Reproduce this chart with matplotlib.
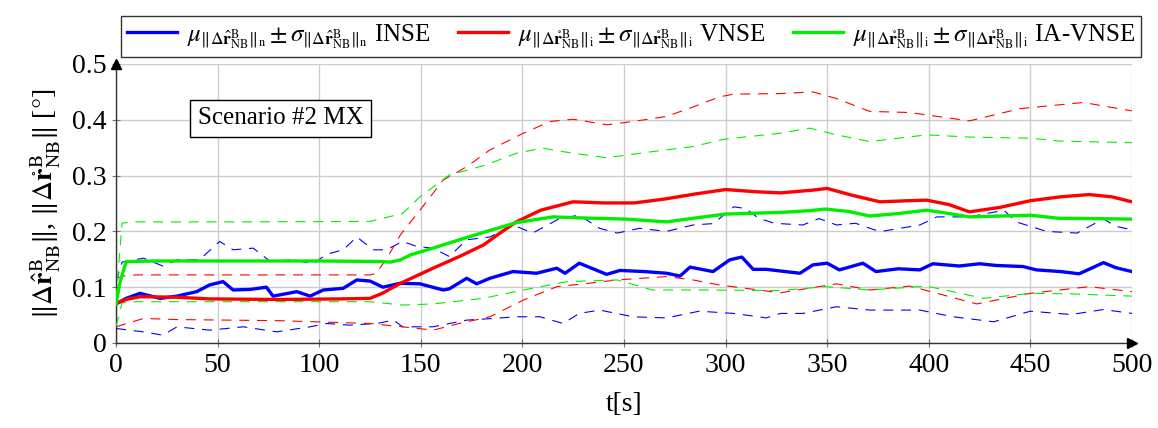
import matplotlib
matplotlib.use("Agg")
import matplotlib.pyplot as plt
import numpy as np

plt.rcParams["font.family"] = ["Liberation Serif", "DejaVu Serif"]
plt.rcParams["mathtext.fontset"] = "stix"

# INSE (blue)
t_blue_mean = [0, 5, 11.8, 21.7, 29.9, 39.7, 46, 52.7, 57.6, 66, 74, 77.3, 89, 95.5, 102, 111.8, 118.5, 125,
               131.4, 139.8, 149.6, 161, 164, 172.6, 177.5, 184, 195.4, 207, 216.9, 221, 228, 241.5, 248, 260,
               271, 277.6, 282.5, 293.8, 302, 308, 313.6, 320, 336.6, 343, 350, 356, 367.6, 374, 385, 395.6,
               402, 415, 425, 433, 446.4, 453, 465, 474, 486, 492, 500]
blue_mean = [0.07, 0.08, 0.089, 0.080, 0.084, 0.092, 0.104, 0.110, 0.095, 0.096, 0.100, 0.084, 0.092, 0.084,
             0.095, 0.098, 0.113, 0.111, 0.100, 0.107, 0.106, 0.095, 0.097, 0.116, 0.106, 0.116, 0.128, 0.125,
             0.134, 0.125, 0.143, 0.123, 0.130, 0.128, 0.125, 0.120, 0.136, 0.128, 0.149, 0.154, 0.132, 0.132,
             0.125, 0.140, 0.143, 0.131, 0.143, 0.128, 0.133, 0.131, 0.142, 0.138, 0.142, 0.139, 0.137, 0.131,
             0.128, 0.124, 0.144, 0.135, 0.128]
t_blue_up = [0, 3, 13.5, 23, 30, 41, 51, 57.6, 67.5, 76, 87, 97, 103.6, 111.8, 118.5, 126.6, 133, 141, 148,
             156, 164, 172.6, 184, 195.4, 205, 218.6, 228, 238, 246.7, 257.6, 271, 284, 294, 304, 310, 316,
             324, 338, 346, 354.6, 364, 376, 395.6, 404, 420, 437, 443, 458, 473, 486, 492, 500]
blue_up = [0.11, 0.145, 0.152, 0.138, 0.149, 0.149, 0.182, 0.167, 0.170, 0.146, 0.149, 0.142, 0.159, 0.167,
           0.190, 0.167, 0.167, 0.182, 0.173, 0.170, 0.155, 0.185, 0.190, 0.2115, 0.197, 0.2235, 0.229, 0.2055,
           0.197, 0.2055, 0.200, 0.2115, 0.214, 0.244, 0.241, 0.224, 0.2145, 0.2115, 0.223, 0.2115, 0.2145,
           0.1995, 0.2115, 0.226, 0.226, 0.238, 0.217, 0.200, 0.197, 0.2225, 0.209, 0.203]
t_blue_lo = [0, 13.5, 23, 30, 46, 62.7, 79, 95.5, 103.6, 115, 128.5, 136.6, 141, 156, 172.6, 185.7, 197,
             208.7, 220, 228, 238, 254.5, 271, 287, 304, 320, 327, 338, 354.6, 371, 395.6, 412, 432, 450,
             470, 486, 500]
blue_lo = [0.026, 0.020, 0.014, 0.029, 0.023, 0.029, 0.020, 0.029, 0.035, 0.032, 0.035, 0.041, 0.029, 0.029,
           0.041, 0.044, 0.047, 0.047, 0.035, 0.053, 0.059, 0.047, 0.045, 0.057, 0.053, 0.045, 0.053, 0.053,
           0.065, 0.059, 0.059, 0.047, 0.038, 0.057, 0.051, 0.060, 0.053]

# VNSE (red)
t_red_mean = [0, 5, 12, 30, 46, 80, 110, 125, 131, 140, 156, 169, 181, 189, 197, 209, 225, 240, 255, 270,
              285, 300, 315, 327, 343, 350, 362, 376, 390, 399, 410, 420, 435, 450, 465, 479, 490, 500]
red_mean = [0.071, 0.078, 0.083, 0.082, 0.079, 0.078, 0.079, 0.080, 0.089, 0.107, 0.134, 0.155, 0.176, 0.197,
            0.217, 0.238, 0.253, 0.251, 0.251, 0.258, 0.267, 0.275, 0.271, 0.269, 0.274, 0.277, 0.265, 0.253,
            0.255, 0.256, 0.248, 0.235, 0.243, 0.255, 0.262, 0.266, 0.262, 0.253]
t_red_up = [0, 3, 10, 60, 125, 128, 133, 140, 149.6, 161, 172.6, 184, 200.5, 213.7, 225, 241.5, 254.5, 271,
            284, 297, 304, 327, 343, 354.6, 371, 390.7, 420, 445, 476, 500]
red_up = [0.115, 0.120, 0.122, 0.122, 0.122, 0.125, 0.150, 0.194, 0.238, 0.292, 0.316, 0.346, 0.376, 0.397,
          0.401, 0.391, 0.397, 0.406, 0.423, 0.441, 0.446, 0.447, 0.450, 0.438, 0.415, 0.413, 0.398, 0.420,
          0.431, 0.416]
t_red_lo = [0, 13.5, 30, 80, 125, 141, 156, 169, 184, 200.5, 217, 230, 246.7, 271, 284, 297, 327, 354.6,
            371, 390.7, 423.6, 450, 479, 500]
red_lo = [0.029, 0.044, 0.042, 0.040, 0.035, 0.029, 0.023, 0.035, 0.047, 0.077, 0.101, 0.106, 0.113, 0.119,
          0.113, 0.104, 0.090, 0.106, 0.095, 0.102, 0.070, 0.089, 0.101, 0.092]

# IA-VNSE (green)
t_green_mean = [0, 2, 5, 20, 60, 100, 130, 135, 140, 145, 156, 169, 182, 197, 215, 230, 251, 271, 285, 300,
                327, 341, 349, 360, 371, 385, 399, 410, 420, 450, 464, 480, 500]
green_mean = [0.07, 0.11, 0.146, 0.147, 0.147, 0.147, 0.146, 0.145, 0.149, 0.158, 0.170, 0.185, 0.1995,
              0.2157, 0.226, 0.224, 0.222, 0.217, 0.224, 0.231, 0.234, 0.237, 0.240, 0.236, 0.2276, 0.232,
              0.238, 0.232, 0.226, 0.229, 0.2235, 0.223, 0.222]
t_green_up = [0, 3, 10, 60, 125, 141, 149.6, 164, 182, 197, 210, 225, 241.5, 264, 284, 299, 327, 341.5,
              354.6, 371, 399, 420, 450, 464, 500]
green_up = [0.08, 0.215, 0.217, 0.217, 0.218, 0.232, 0.262, 0.301, 0.319, 0.340, 0.349, 0.340, 0.332, 0.343,
            0.352, 0.365, 0.376, 0.385, 0.373, 0.361, 0.373, 0.369, 0.367, 0.362, 0.359]
t_green_lo = [0, 3, 10, 60, 125, 141, 156, 180.6, 200.5, 222, 246.7, 264, 287, 327, 349, 371, 399, 427, 450,
              470, 500]
green_lo = [0.03, 0.072, 0.074, 0.074, 0.074, 0.068, 0.070, 0.080, 0.095, 0.110, 0.113, 0.095, 0.095, 0.094,
            0.101, 0.095, 0.102, 0.080, 0.089, 0.088, 0.084]

x_ticks = [0, 50, 100, 150, 200, 250, 300, 350, 400, 450, 500]
y_ticks = [0, 0.1, 0.2, 0.3, 0.4, 0.5]

BLUE = "#0000ff"
RED = "#ff0000"
GREEN = "#00ee00"

fig = plt.figure(figsize=(11.58, 4.28), dpi=100)
ax = fig.add_axes([0.1002, 0.1986, 0.8773, 0.6519])

dash = (0, (9, 7))
for tt, vv, c in [(t_blue_up, blue_up, BLUE), (t_blue_lo, blue_lo, BLUE),
                  (t_red_up, red_up, RED), (t_red_lo, red_lo, RED),
                  (t_green_up, green_up, GREEN), (t_green_lo, green_lo, GREEN)]:
    ax.plot(tt, vv, color=c, lw=0.8, linestyle=dash, zorder=3)

l1, = ax.plot(t_blue_mean, blue_mean, color=BLUE, lw=2.4, zorder=4)
l2, = ax.plot(t_red_mean, red_mean, color=RED, lw=2.4, zorder=4)
l3, = ax.plot(t_green_mean, green_mean, color=GREEN, lw=2.4, zorder=5)

ax.set_xlim(0, 500)
ax.set_ylim(0, 0.5)
ax.set_xticks(x_ticks)
ax.set_yticks(y_ticks)
ax.set_yticklabels(["0", "0.1", "0.2", "0.3", "0.4", "0.5"])
ax.tick_params(labelsize=20, direction="inout", length=6, color="0.45", width=0.8, pad=4)
ax.grid(True, color="#cccccc", lw=1.0)
ax.set_axisbelow(True)

for s in ["top", "right"]:
    ax.spines[s].set_visible(False)
for s in ["left", "bottom"]:
    ax.spines[s].set_color("#333333")
    ax.spines[s].set_linewidth(1.0)
ax.plot(1, 0, ">", color="black", ms=7, transform=ax.transAxes, clip_on=False, zorder=6)
ax.plot(0, 1, "^", color="black", ms=7, transform=ax.transAxes, clip_on=False, zorder=6)

ax.set_xlabel("t[s]", fontsize=20, labelpad=10)
ax.set_ylabel(r"$\|\Delta\hat{\mathbf{r}}^{\mathrm{B}}_{\mathrm{NB}}\|$, "
              r"$\|\Delta\mathring{\mathbf{r}}^{\mathrm{B}}_{\mathrm{NB}}\|$ [$\degree$]",
              fontsize=20, labelpad=6)

ax.text(81, 0.403, "Scenario #2 MX", fontsize=18, ha="center", va="center", zorder=7,
        bbox=dict(boxstyle="square,pad=0.3", fc="white", ec="black", lw=1.0))

lab1 = (r"$\mu_{\|\Delta\hat{\mathbf{r}}^{\mathrm{B}}_{\mathrm{NB}}\|_{\mathrm{n}}}"
        r"\pm\sigma_{\|\Delta\hat{\mathbf{r}}^{\mathrm{B}}_{\mathrm{NB}}\|_{\mathrm{n}}}$ INSE")
lab2 = (r"$\mu_{\|\Delta\mathring{\mathbf{r}}^{\mathrm{B}}_{\mathrm{NB}}\|_{\mathrm{i}}}"
        r"\pm\sigma_{\|\Delta\mathring{\mathbf{r}}^{\mathrm{B}}_{\mathrm{NB}}\|_{\mathrm{i}}}$ VNSE")
lab3 = (r"$\mu_{\|\Delta\mathring{\mathbf{r}}^{\mathrm{B}}_{\mathrm{NB}}\|_{\mathrm{i}}}"
        r"\pm\sigma_{\|\Delta\mathring{\mathbf{r}}^{\mathrm{B}}_{\mathrm{NB}}\|_{\mathrm{i}}}$ IA-VNSE")
leg = ax.legend([l1, l2, l3], [lab1, lab2, lab3], loc="lower center", bbox_to_anchor=(0.507, 1.025),
                ncols=3, fontsize=18, frameon=True, fancybox=False, edgecolor="black",
                handlelength=2.0, handletextpad=0.4, columnspacing=1.1, borderpad=0.25,
                borderaxespad=0)
leg.get_frame().set_linewidth(1.0)

fig.savefig("out.png", dpi=100)
